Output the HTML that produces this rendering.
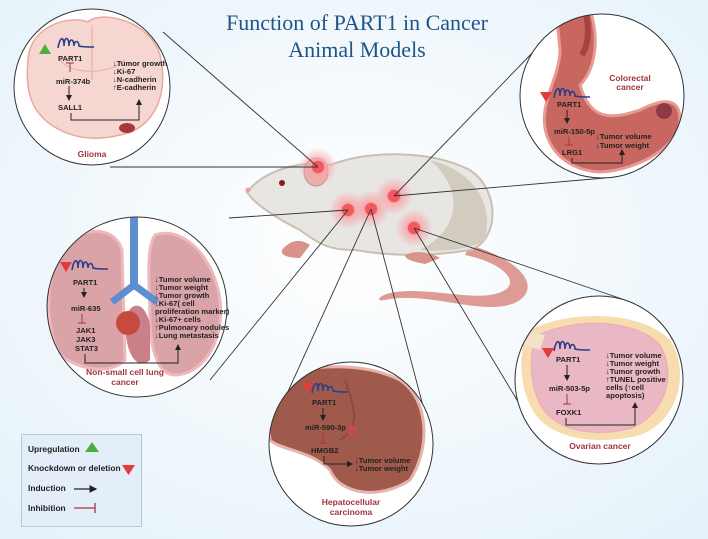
<!DOCTYPE html>
<html><head><meta charset="utf-8"><style>
html,body{margin:0;padding:0;width:708px;height:539px;overflow:hidden;background:#eef6fb}
svg{display:block}
.t{font-family:"Liberation Sans",sans-serif;font-weight:bold;font-size:7.6px;fill:#222}
.g{font-family:"Liberation Sans",sans-serif;font-weight:bold;font-size:8.4px;fill:#222}
.l{font-family:"Liberation Sans",sans-serif;font-weight:bold;font-size:8.5px;fill:#a3343c}
</style></head><body>
<svg width="708" height="539" viewBox="0 0 708 539" xmlns="http://www.w3.org/2000/svg">
<defs>
<radialGradient id="bg" cx="0.5" cy="0.45" r="0.7"><stop offset="0" stop-color="#ffffff"/><stop offset="1" stop-color="#e6f2fa"/></radialGradient>
<radialGradient id="hot"><stop offset="0" stop-color="#f4585e"/><stop offset="0.3" stop-color="#f4585e"/><stop offset="0.36" stop-color="#f7a3a6" stop-opacity=".85"/><stop offset="1" stop-color="#f7a3a6" stop-opacity="0"/></radialGradient>
<marker id="ar" markerWidth="6" markerHeight="6" refX="5" refY="3" orient="auto"><path d="M0,0 L6,3 L0,6z" fill="#222"/></marker>
<clipPath id="c1"><circle cx="92" cy="87" r="78"/></clipPath>
<clipPath id="c2"><circle cx="137" cy="307" r="90"/></clipPath>
<clipPath id="c3"><circle cx="602" cy="96" r="82"/></clipPath>
<clipPath id="c4"><circle cx="351" cy="444" r="82"/></clipPath>
<clipPath id="c5"><circle cx="599" cy="380" r="84"/></clipPath>
<g id="rna"><path d="M0,12 C2,0 6,0 6,10 C6,0 11,0 11,10 C11,2 16,2 16,10 C16,4 21,4 21,10 C24,11 30,11 36,11" fill="none" stroke="#2c3d8a" stroke-width="1.6"/></g>
</defs>
<rect width="708" height="539" fill="url(#bg)"/>
<text x="357" y="30" text-anchor="middle" font-family="Liberation Serif,serif" font-size="22" fill="#1f5488">Function of PART1 in Cancer</text>
<text x="357" y="57" text-anchor="middle" font-family="Liberation Serif,serif" font-size="22" fill="#1f5488">Animal Models</text>

<!-- mouse -->
<g>
<path d="M470,245 C520,260 540,285 520,300 C490,320 430,290 385,300 C375,302 378,296 390,293 C430,285 480,305 505,290 C520,280 500,262 465,255z" fill="#d99088" opacity=".9"/>
<path d="M247,192 C265,170 300,160 330,165 C370,150 430,150 470,170 C500,190 500,240 470,250 C440,255 400,258 355,250 C330,250 320,245 300,230 C280,220 255,205 247,192z" fill="#e8e6e3" stroke="#c9bfb2" stroke-width="2"/>
<path d="M430,160 C470,170 495,200 485,240 C470,250 440,252 420,250 C460,230 465,190 430,160z" fill="#d2cbc0"/>
<path d="M282,250 C290,240 300,238 310,245 L300,258 C290,258 280,256 282,250z" fill="#d9938b"/>
<path d="M405,255 C415,250 430,252 440,258 L425,264 C415,262 405,260 405,255z" fill="#d9938b"/>
<ellipse cx="316" cy="172" rx="12" ry="14" fill="#e6b3ae" stroke="#c98f88"/>
<circle cx="282" cy="183" r="3" fill="#8a1a1e"/>
<circle cx="248" cy="190" r="2.5" fill="#e8a0a0"/>
<circle cx="318" cy="167" r="19" fill="url(#hot)"/>
<circle cx="348" cy="210" r="19" fill="url(#hot)"/>
<circle cx="371" cy="209" r="19" fill="url(#hot)"/>
<circle cx="394" cy="196" r="19" fill="url(#hot)"/>
<circle cx="414" cy="228" r="19" fill="url(#hot)"/>
</g>

<!-- connector lines -->
<g stroke="#333" stroke-width="0.9" fill="none">
<line x1="163" y1="32" x2="318" y2="167"/><line x1="110" y1="167" x2="318" y2="167"/>
<line x1="229" y1="218" x2="348" y2="210"/><line x1="348" y1="210" x2="210" y2="380"/>
<line x1="537" y1="48" x2="394" y2="196"/><line x1="605" y1="178" x2="394" y2="196"/>
<line x1="371" y1="209" x2="275" y2="420"/><line x1="371" y1="209" x2="428" y2="425"/>
<line x1="414" y1="228" x2="520" y2="405"/><line x1="414" y1="228" x2="625" y2="300"/>
</g>

<!-- Glioma -->
<circle cx="92" cy="87" r="78" fill="#fff"/>
<g clip-path="url(#c1)">
<path d="M28,60 C30,25 70,15 88,22 C100,10 150,20 160,55 C170,100 150,130 120,135 C100,140 80,140 60,130 C30,115 25,90 28,60z" fill="#f5d6d1" stroke="#e8a8a0" stroke-width="1.5"/>
<path d="M92,25 L92,80 M60,60 C70,75 110,75 125,60" stroke="#e8a8a0" fill="none"/>
<ellipse cx="127" cy="128" rx="8" ry="5" fill="#a8383b"/>
</g>
<circle cx="92" cy="87" r="78" fill="none" stroke="#333" stroke-width="1"/>
<path d="M39,54 L45,44 L51,54z" fill="#4caf3a"/>
<use href="#rna" x="58" y="36"/>
<text class="t" x="58" y="61">PART1</text>
<line x1="70" y1="63" x2="70" y2="72" stroke="#a3343c"/><line x1="66" y1="63" x2="74" y2="63" stroke="#a3343c"/>
<text class="t" x="56" y="84">miR-374b</text>
<line x1="69" y1="86" x2="69" y2="100" stroke="#222" marker-end="url(#ar)"/>
<text class="t" x="58" y="110">SALL1</text>
<polyline points="71,113 71,120 139,120 139,100" fill="none" stroke="#222" marker-end="url(#ar)"/>
<text class="t" x="113" y="66">↓Tumor growth</text><text class="t" x="113" y="74">↓Ki-67</text>
<text class="t" x="113" y="82">↓N-cadherin</text><text class="t" x="113" y="90">↑E-cadherin</text>
<text class="l" x="92" y="157" text-anchor="middle">Glioma</text>

<!-- Lung -->
<circle cx="137" cy="307" r="90" fill="#fff"/>
<g clip-path="url(#c2)">
<path d="M60,250 C80,225 115,225 122,250 L125,360 C110,375 80,370 60,355 C45,330 45,280 60,250z" fill="#d9a3a8" stroke="#eeb9bc" stroke-width="3"/>
<path d="M155,235 C185,225 215,260 220,300 C225,345 200,375 175,375 C155,375 150,340 150,320 C150,290 145,250 155,235z" fill="#d9a3a8" stroke="#eeb9bc" stroke-width="3"/>
<path d="M125,320 C130,300 145,300 150,325 L150,360 C140,370 125,360 125,320z" fill="#c98088"/>
<rect x="130" y="210" width="8" height="80" fill="#5b8fcf"/>
<path d="M134,285 L112,302 M134,285 L157,302" stroke="#5b8fcf" stroke-width="7"/>
<circle cx="128" cy="323" r="12" fill="#c84a3e"/>
</g>
<circle cx="137" cy="307" r="90" fill="none" stroke="#333" stroke-width="1"/>
<path d="M60,262 L72,262 L66,272z" fill="#e23b3b"/>
<use href="#rna" x="72" y="258"/>
<text class="t" x="73" y="285">PART1</text>
<line x1="84" y1="288" x2="84" y2="297" stroke="#222" marker-end="url(#ar)"/>
<text class="t" x="71" y="311">miR-635</text>
<line x1="82" y1="314" x2="82" y2="323" stroke="#a3343c"/><line x1="78" y1="323" x2="86" y2="323" stroke="#a3343c"/>
<text class="t" x="76" y="333">JAK1</text><text class="t" x="76" y="342">JAK3</text><text class="t" x="75" y="351">STAT3</text>
<polyline points="85,354 85,363 178,363 178,345" fill="none" stroke="#222" marker-end="url(#ar)"/>
<text class="t" x="155" y="282">↓Tumor volume</text><text class="t" x="155" y="290">↓Tumor weight</text><text class="t" x="155" y="298">↓Tumor growth</text><text class="t" x="155" y="306">↓Ki-67( cell</text><text class="t" x="155" y="314">proliferation marker)</text><text class="t" x="155" y="322">↓Ki-67+ cells</text><text class="t" x="155" y="330">↑Pulmonary nodules</text><text class="t" x="155" y="338">↓Lung metastasis</text>
<text class="l" x="125" y="375" text-anchor="middle">Non-small cell lung</text>
<text class="l" x="125" y="385" text-anchor="middle">cancer</text>

<!-- Colorectal -->
<circle cx="602" cy="96" r="82" fill="#fff"/>
<g clip-path="url(#c3)">
<path d="M556,10 L590,10 C600,40 595,70 580,85 C590,120 610,120 640,110 C660,100 680,95 680,120 C680,145 640,170 600,172 C560,170 540,140 545,110 C548,90 560,70 560,50z" fill="#c8675f" stroke="#e89a95" stroke-width="3"/>
<path d="M565,10 L585,10 C590,30 588,45 582,55" stroke="#a8423f" stroke-width="6" fill="none"/>
<circle cx="664" cy="111" r="8" fill="#8e3a44"/>
</g>
<circle cx="602" cy="96" r="82" fill="none" stroke="#333" stroke-width="1"/>
<path d="M540,92 L552,92 L546,102z" fill="#e23b3b"/>
<use href="#rna" x="554" y="86"/>
<text class="t" x="557" y="107">PART1</text>
<line x1="567" y1="110" x2="567" y2="123" stroke="#222" marker-end="url(#ar)"/>
<text class="t" x="554" y="134">miR-150-5p</text>
<line x1="569" y1="137" x2="569" y2="145" stroke="#a3343c"/><line x1="565" y1="145" x2="573" y2="145" stroke="#a3343c"/>
<text class="t" x="562" y="155">LRG1</text>
<polyline points="572,158 572,163 622,163 622,150" fill="none" stroke="#222" marker-end="url(#ar)"/>
<text class="t" x="596" y="139">↓Tumor volume</text><text class="t" x="596" y="148">↓Tumor weight</text>
<text class="l" x="630" y="81" text-anchor="middle">Colorectal</text><text class="l" x="630" y="90" text-anchor="middle">cancer</text>

<!-- Liver -->
<circle cx="351" cy="444" r="82" fill="#fff"/>
<g clip-path="url(#c4)">
<path d="M262,380 C300,365 360,360 400,380 C430,400 430,450 410,480 C380,500 340,495 330,470 C310,450 280,450 270,440z" fill="#a05a4c" stroke="#e7b3ad" stroke-width="3"/>
<path d="M345,380 C360,420 355,430 340,440" stroke="#8b4a3d" stroke-width="2" fill="none"/>
<circle cx="352" cy="430" r="5" fill="#c84a50"/>
</g>
<circle cx="351" cy="444" r="82" fill="none" stroke="#333" stroke-width="1"/>
<path d="M302,383 L314,383 L308,393z" fill="#e23b3b"/>
<use href="#rna" x="312" y="381"/>
<text class="t" x="312" y="405">PART1</text>
<line x1="323" y1="408" x2="323" y2="420" stroke="#222" marker-end="url(#ar)"/>
<text class="t" x="305" y="430">miR-590-3p</text>
<line x1="323" y1="433" x2="323" y2="443" stroke="#a3343c"/><line x1="319" y1="443" x2="327" y2="443" stroke="#a3343c"/>
<text class="t" x="311" y="453">HMGB2</text>
<polyline points="324,456 324,464 352,464" fill="none" stroke="#222" marker-end="url(#ar)"/>
<text class="t" x="355" y="463">↓Tumor volume</text><text class="t" x="355" y="471">↓Tumor weight</text>
<text class="l" x="351" y="505" text-anchor="middle">Hepatocellular</text><text class="l" x="351" y="515" text-anchor="middle">carcinoma</text>

<!-- Ovarian -->
<circle cx="599" cy="380" r="84" fill="#fff"/>
<g clip-path="url(#c5)">
<path d="M530,330 C570,310 640,310 670,340 C690,370 680,420 640,435 C600,445 560,440 540,420 C520,400 515,350 530,330z" fill="#f6dcae"/>
<path d="M538,335 C575,318 635,318 660,345 C676,372 668,412 632,428 C598,437 565,432 548,415 C530,398 526,352 538,335z" fill="#eab8c4" stroke="#f0a9b3"/>
<path d="M505,325 L545,335 L540,350 L505,340z" fill="#f3e1c8"/>
</g>
<circle cx="599" cy="380" r="84" fill="none" stroke="#333" stroke-width="1"/>
<path d="M542,348 L554,348 L548,358z" fill="#e23b3b"/>
<use href="#rna" x="554" y="339"/>
<text class="t" x="556" y="362">PART1</text>
<line x1="567" y1="365" x2="567" y2="380" stroke="#222" marker-end="url(#ar)"/>
<text class="t" x="549" y="391">miR-503-5p</text>
<line x1="567" y1="394" x2="567" y2="404" stroke="#a3343c"/><line x1="563" y1="404" x2="571" y2="404" stroke="#a3343c"/>
<text class="t" x="556" y="415">FOXK1</text>
<polyline points="566,418 566,425 635,425 635,403" fill="none" stroke="#222" marker-end="url(#ar)"/>
<text class="t" x="606" y="358">↓Tumor volume</text><text class="t" x="606" y="366">↓Tumor weight</text><text class="t" x="606" y="374">↓Tumor growth</text><text class="t" x="606" y="382">↑TUNEL positive</text><text class="t" x="606" y="390">cells          (↑cell</text><text class="t" x="606" y="398">apoptosis)</text>
<text class="l" x="600" y="449" text-anchor="middle">Ovarian cancer</text>

<!-- Legend -->
<rect x="21.5" y="434.5" width="120" height="92" fill="#e3eef9" stroke="#b9c8d6"/>
<text class="g" x="28" y="452">Upregulation</text><path d="M85,452 L92,442 L99,452z" fill="#4caf3a"/>
<text class="g" x="28" y="471">Knockdown or deletion</text><path d="M122,465 L135,465 L128.5,475z" fill="#e23b3b"/>
<text class="g" x="28" y="491">Induction</text><line x1="74" y1="489" x2="96" y2="489" stroke="#222" stroke-width="1.3" marker-end="url(#ar)"/>
<text class="g" x="28" y="511">Inhibition</text><line x1="74" y1="508" x2="95" y2="508" stroke="#a3343c" stroke-width="1.3"/><line x1="95" y1="503" x2="95" y2="513" stroke="#a3343c" stroke-width="1.3"/>
</svg>
</body></html>
